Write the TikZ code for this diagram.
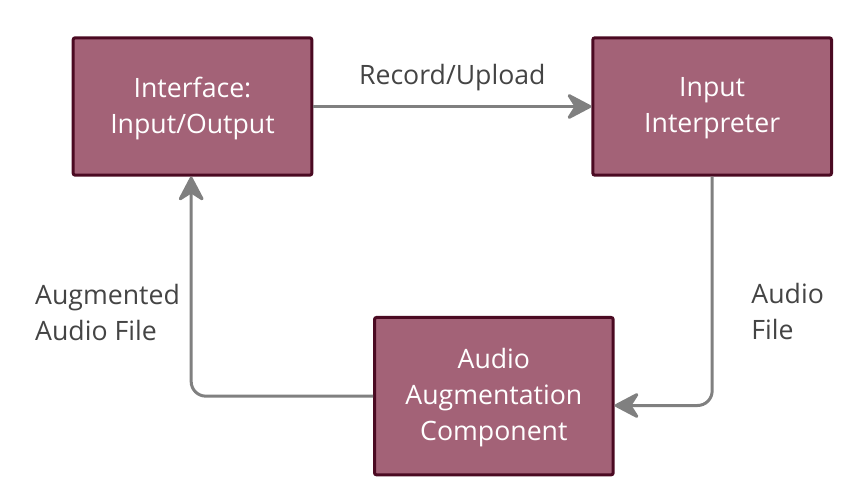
\documentclass[tikz,border=0pt]{standalone}
\usepackage{fontspec}
\setmainfont{Open Sans}
\usetikzlibrary{arrows.meta}
\usetikzlibrary{positioning}

\definecolor{boxfill}{HTML}{A36277}
\definecolor{boxline}{HTML}{4B0A22}
\definecolor{flowgray}{HTML}{808080}
\definecolor{labelgray}{HTML}{444444}

\begin{document}
\begin{tikzpicture}[x=0.75pt,y=-0.75pt]
        \tikzset{
          font=\fontsize{20pt}{27pt}\selectfont,
          block/.style={
            draw=boxline,
            fill=boxfill,
            line width=2.25pt,
            rounded corners=1.5pt,
            text=white,
            align=center,
            minimum width=179pt,
            minimum height=103pt,
            text depth=2pt,
          },
          flow/.style={
            draw=flowgray,
            line width=2.25pt,
            rounded corners=11pt,
            -{Stealth[length=21pt,width=22pt,inset=7pt,round]},
          },
          tag/.style={
            text=labelgray,
            align=left,
          },
        }
        \useasboundingbox (0,0) rectangle (866,498);

        \node[block] (io) at (192.5,106.5) {Interface:\\Input/Output};
        \node[block, right=208.5pt of io] (interp) {Input\\Interpreter};
        \node[block, minimum height=118pt, anchor=north west]
          (augment) at (373,316) {Audio\\Augmentation\\Component};

        \draw[flow] (io) -- node[tag, above=7pt]{Record/Upload} (interp);
        \draw[flow] (interp.south) |- node[tag, pos=0.29, anchor=west, xshift=25pt, yshift=-1.5pt]{Audio\\File}
          ([yshift=-7pt]augment.east);
        \draw[flow] (augment.west) -| node[tag, pos=0.69, anchor=east, xshift=-4pt, yshift=0.5pt]{Augmented\\Audio File}
          ([xshift=-1pt]io.south);
      \end{tikzpicture}
\end{document}
